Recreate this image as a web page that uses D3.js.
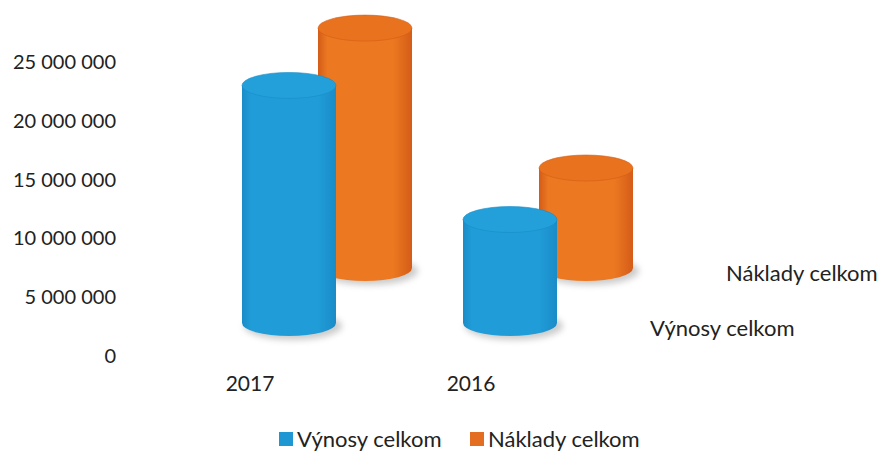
<!DOCTYPE html>
<html><head><meta charset="utf-8">
<script src="https://cdn.jsdelivr.net/npm/d3@7"></script>
<style>
html,body{margin:0;padding:0;background:#fff;}
svg text{font-family:"Lato","Open Sans",sans-serif;fill:#222;}
</style></head>
<body><svg id="c" width="878" height="455"></svg>
<script>
const categories = ["2017", "2016"];
const seriesNames = ["Výnosy celkom", "Náklady celkom"];
const vynosy = [20200000, 8800000];
const naklady = [20400000, 8500000];
const yTicks = [0, 5000000, 10000000, 15000000, 20000000, 25000000];

const seriesValues = [vynosy, naklady];
const colors = [
  {edge:"#1a8cc8", mid:"#209dd8", top:"#23a0da", legend:"#1f97d2"},
  {edge:"#d45c18", mid:"#ec7821", top:"#e8721e", legend:"#e36d20"}
];

const svg = d3.select("#c");
const defs = svg.append("defs");
const fmt = v => d3.format(",")(v).replace(/,/g, "\u00a0");

const y = d3.scaleLinear().domain([0, 25000000]).range([356, 62]);
const x = d3.scalePoint().domain(categories).range([250, 471]);
const depthX = d3.scaleLinear().domain([0, 1]).range([39, 115]);
const depthY = d3.scaleLinear().domain([0, 1]).range([-33, -88]);
const rx = 47, ry = 13;

// y axis
const yAxis = d3.axisLeft(y).tickValues(yTicks).tickFormat(fmt).tickSize(0).tickPadding(0);
const gy = svg.append("g").attr("transform", "translate(116,0)").call(yAxis);
gy.select(".domain").remove();
gy.selectAll("text").style("font-size", "20px").style("font-family", "Lato").attr("fill", "#222");

// category labels
svg.selectAll(".cat").data(categories).join("text")
  .attr("x", d => x(d)).attr("y", 384).attr("dy", "0.35em")
  .attr("text-anchor", "middle").style("font-size", "21px").text(d => d);

// depth (series) labels
svg.selectAll(".ser").data(seriesNames).join("text")
  .attr("x", (d, i) => 611 + depthX(i)).attr("y", (d, i) => y(0) + depthY(i) + 5).attr("dy", "0.35em")
  .style("font-size", "22px").text(d => d);

// gradients
colors.forEach((c, i) => {
  const g = defs.append("linearGradient").attr("id", "side" + i).attr("x1", "0").attr("x2", "1").attr("y1", "0").attr("y2", "0");
  g.append("stop").attr("offset", "0").attr("stop-color", c.edge);
  g.append("stop").attr("offset", "0.1").attr("stop-color", c.mid);
  g.append("stop").attr("offset", "0.8").attr("stop-color", c.mid);
  g.append("stop").attr("offset", "1").attr("stop-color", c.edge);
});
const blur = defs.append("filter").attr("id", "shadow").attr("x", "-50%").attr("y", "-50%").attr("width", "200%").attr("height", "200%");
blur.append("feGaussianBlur").attr("stdDeviation", 3);

// cylinders: back row first
[1, 0].forEach(si => {
  const g = svg.append("g");
  categories.forEach((cat, ci) => {
    const v = seriesValues[si][ci];
    const cx = x(cat) + depthX(si);
    const base = y(0) + depthY(si);
    const top = base - (y(0) - y(v));
    g.append("ellipse").attr("cx", cx + 4).attr("cy", base + 3).attr("rx", rx + 2).attr("ry", ry + 1)
      .attr("fill", "#999").attr("opacity", 0.5).attr("filter", "url(#shadow)");
    const path = `M${cx - rx},${top} L${cx - rx},${base} A${rx},${ry} 0 0 0 ${cx + rx},${base} L${cx + rx},${top} Z`;
    g.append("path").attr("d", path).attr("fill", `url(#side${si})`);
    g.append("ellipse").attr("cx", cx).attr("cy", top).attr("rx", rx).attr("ry", ry)
      .attr("fill", colors[si].top).attr("stroke", colors[si].edge).attr("stroke-width", 0.6);
  });
});

// legend
const legendX = [279, 470];
const lg = svg.selectAll(".lg").data(seriesNames).join("g")
  .attr("transform", (d, i) => `translate(${legendX[i]},432)`);
lg.append("rect").attr("width", 14).attr("height", 14).attr("fill", (d, i) => colors[i].legend);
lg.append("text").attr("x", 18).attr("y", 7).attr("dy", "0.35em").style("font-size", "22px").text(d => d);
</script></body></html>
